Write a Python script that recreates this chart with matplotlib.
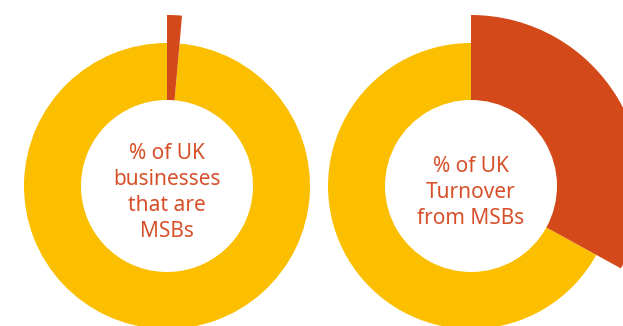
import matplotlib.pyplot as plt

# share held by medium-sized businesses (percent)
labels = ["% of UK\nbusinesses\nthat are\nMSBs", "% of UK\nTurnover\nfrom MSBs"]
msb_share = [1.4, 33.0]

red = "#d4491a"
yellow = "#fbbf00"

fig = plt.figure(figsize=(6.23, 3.26), dpi=100)
ax = fig.add_axes([0, 0, 1, 1])
ax.set_xlim(0, 623)
ax.set_ylim(0, 326)
ax.set_aspect("equal")
ax.axis("off")

centers = [(167, 140), (471, 140)]
for (cx, cy), share, lab in zip(centers, msb_share, labels):
    vals = [share, 100 - share]
    # base ring (yellow part only)
    ax.pie(vals, colors=["none", yellow], startangle=90, counterclock=False,
           center=(cx, cy), radius=143, wedgeprops=dict(width=57, linewidth=0))
    # highlighted MSB slice, drawn bigger
    ax.pie(vals, colors=[red, "none"], startangle=90, counterclock=False,
           center=(cx, cy), radius=171, wedgeprops=dict(width=85, linewidth=0))
    ax.text(cx, cy - 6.5, lab, ha="center", va="center", color="#d6502a",
            fontsize=15, family="Noto Sans", linespacing=1.32)

ax.set_xlim(0, 623)
ax.set_ylim(0, 326)
fig.savefig("out.png", dpi=100)
